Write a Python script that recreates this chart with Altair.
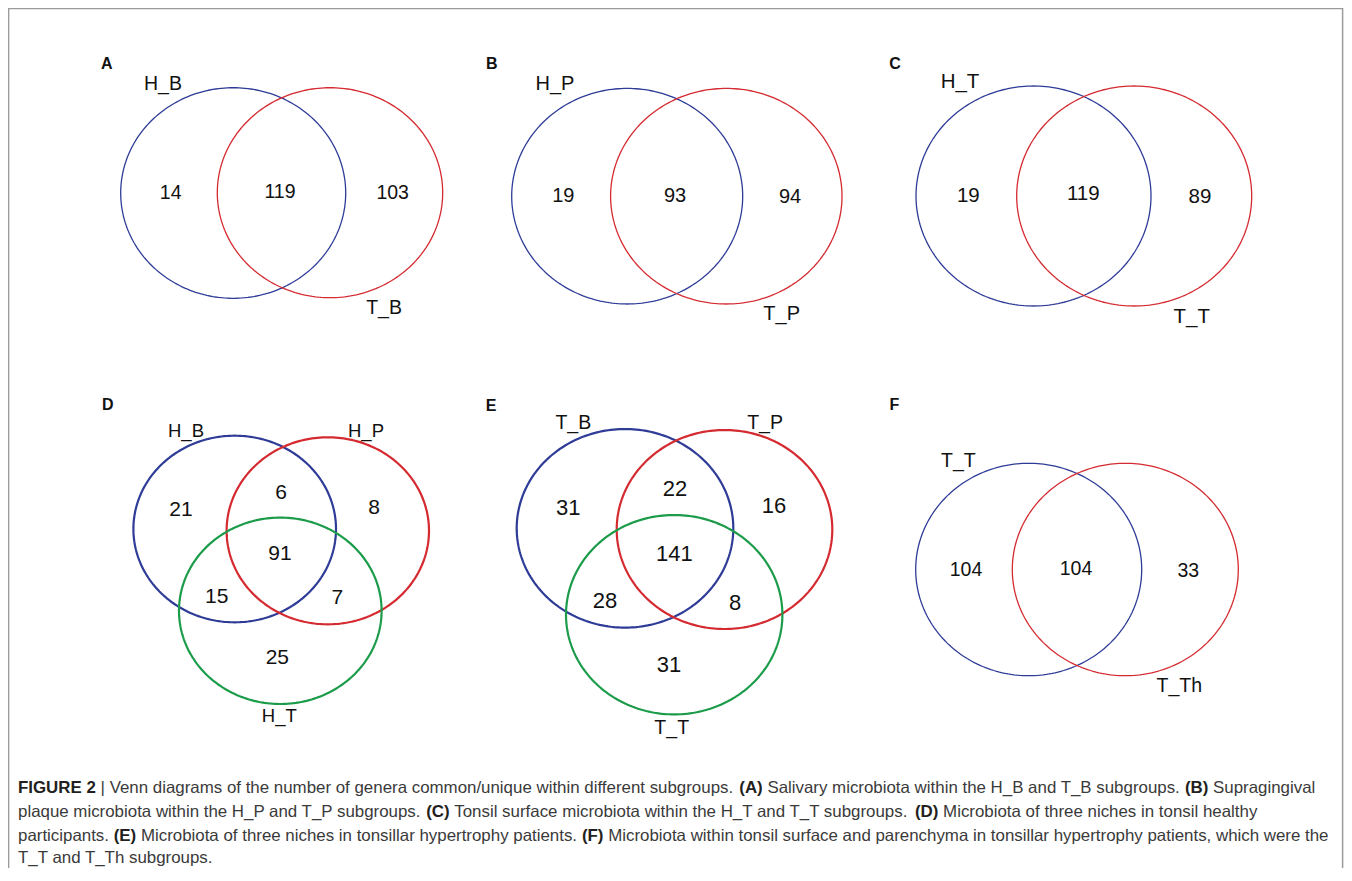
import altair as alt
import numpy as np
import pandas as pd

# ------------------------------------------------------------------ data
panel_ids = ["A", "B", "C", "D", "E", "F"]
set_names_A = ["H_B", "T_B"]
set_names_B = ["H_P", "T_P"]
set_names_C = ["H_T", "T_T"]
set_names_D = ["H_B", "H_P", "H_T"]
set_names_E = ["T_B", "T_P", "T_T"]
set_names_F = ["T_T", "T_Th"]
# two-set region counts: [only first, both, only second]
counts_A = [14, 119, 103]
counts_B = [19, 93, 94]
counts_C = [19, 119, 89]
counts_F = [104, 104, 33]
# three-set region counts: [only 1, 1&2, only 2, all, 1&3, 2&3, only 3]
counts_D = [21, 6, 8, 91, 15, 7, 25]
counts_E = [31, 22, 16, 141, 28, 8, 31]

caption_lines = [
    [("FIGURE 2", True), ("|", False),
     ("Venn diagrams of the number of genera common/unique within different subgroups.", False),
     ("(A)", True), ("Salivary microbiota within the H_B and T_B subgroups.", False),
     ("(B)", True), ("Supragingival", False)],
    [("plaque microbiota within the H_P and T_P subgroups.", False), ("(C)", True),
     ("Tonsil surface microbiota within the H_T and T_T subgroups.", False), ("(D)", True),
     ("Microbiota of three niches in tonsil healthy", False)],
    [("participants.", False), ("(E)", True),
     ("Microbiota of three niches in tonsillar hypertrophy patients.", False), ("(F)", True),
     ("Microbiota within tonsil surface and parenchyma in tonsillar hypertrophy patients, which were the", False)],
    [("T_T and T_Th subgroups.", False)],
]

# ------------------------------------------------------------------ layout (page pixels)
BLUE, RED, GREEN = "#2E3C97", "#D42A30", "#1C9C4A"
layout = {
    "A": dict(names=set_names_A, counts=counts_A, sw=1.3, num=19.5, lab=19.5,
              ell=[(233.2, 193.0, 112.5, 105.3), (330.0, 192.7, 112.7, 105.0)],
              reg=[(170.7, 191.7), (280.0, 190.7), (392.7, 192.3)],
              labpos=[(163.0, 82.7), (384.0, 307.0)], letter=(106.7, 62.7)),
    "B": dict(names=set_names_B, counts=counts_B, sw=1.3, num=20.0, lab=20.0,
              ell=[(627.2, 196.2, 115.5, 107.8), (726.3, 196.2, 115.7, 107.8)],
              reg=[(563.3, 195.0), (675.0, 195.0), (790.0, 196.0)],
              labpos=[(555.0, 83.3), (781.7, 313.3)], letter=(491.7, 62.7)),
    "C": dict(names=set_names_C, counts=counts_C, sw=1.3, num=20.5, lab=20.5,
              ell=[(1033.5, 196.0, 117.5, 110.0), (1134.2, 196.0, 117.5, 110.0)],
              reg=[(968.3, 195.0), (1083.3, 193.3), (1200.0, 196.0)],
              labpos=[(960.0, 81.0), (1191.7, 316.0)], letter=(895.0, 62.7)),
    "D": dict(names=set_names_D, counts=counts_D, sw=2.2, num=21.0, lab=18.5,
              ell=[(234.7, 529.0, 101.3, 93.3), (327.8, 530.8, 101.2, 93.5),
                   (280.3, 610.8, 101.3, 93.2)],
              reg=[(181.0, 509.3), (281.0, 492.3), (374.0, 506.7), (280.0, 553.3),
                   (216.7, 596.0), (337.3, 597.3), (277.3, 656.7)],
              labpos=[(186.0, 430.0), (366.0, 430.0), (279.3, 715.0)], letter=(107.7, 404.0)),
    "E": dict(names=set_names_E, counts=counts_E, sw=2.2, num=22.0, lab=19.5,
              ell=[(625.0, 528.3, 108.3, 99.3), (724.5, 529.5, 107.8, 99.5),
                   (674.2, 614.7, 108.2, 99.7)],
              reg=[(568.3, 506.7), (675.0, 488.3), (774.0, 505.0), (674.3, 553.3),
                   (605.0, 600.0), (735.0, 601.7), (669.0, 664.3)],
              labpos=[(573.3, 422.3), (765.0, 422.3), (671.7, 726.7)], letter=(491.0, 405.0)),
    "F": dict(names=set_names_F, counts=counts_F, sw=1.3, num=19.5, lab=19.5,
              ell=[(1028.7, 569.5, 113.0, 106.2), (1125.3, 569.5, 113.0, 106.2)],
              reg=[(966.0, 569.0), (1076.0, 568.3), (1188.3, 569.7)],
              labpos=[(958.3, 460.0), (1179.3, 685.0)], letter=(894.3, 404.0)),
}
caption_y = [788.0, 811.5, 835.5, 858.0]
caption_left = 18.0
caption_right_1, caption_right_3 = 1331.0, 1313.0

# ------------------------------------------------------------------ build tables
colors = [BLUE, RED, GREEN]
t = np.linspace(0, 2 * np.pi, 241)
ell_rows, num_rows, lab_rows, let_rows = [], [], [], []
for p in panel_ids:
    L = layout[p]
    for k, (cx, cy, rx, ry) in enumerate(L["ell"]):
        for i, a in enumerate(t):
            ell_rows.append(dict(cid=f"{p}{k}", i=i, x=cx + rx * np.cos(a), y=cy + ry * np.sin(a),
                                 col=colors[k], sw=L["sw"]))
    for (x, y), c in zip(L["reg"], L["counts"]):
        num_rows.append(dict(x=x, y=y + 1, text=str(c), size=L["num"]))
    for (x, y), n in zip(L["labpos"], L["names"]):
        lab_rows.append(dict(x=x, y=y + 1, text=n, size=L["lab"]))
    let_rows.append(dict(x=L["letter"][0], y=L["letter"][1] + 1, text=p))

# Arial / Liberation Sans advance widths (per 1000 em)
REG = {" ": 278, "(": 333, ")": 333, ",": 278, ".": 278, "/": 278, "|": 260, "_": 556,
       "A": 667, "B": 667, "C": 722, "D": 722, "E": 667, "F": 611, "G": 778, "H": 722, "I": 278,
       "M": 833, "P": 667, "S": 667, "T": 611, "V": 667,
       "a": 556, "b": 556, "c": 500, "d": 556, "e": 556, "f": 278, "g": 556, "h": 556, "i": 222,
       "j": 222, "k": 500, "l": 222, "m": 833, "n": 556, "o": 556, "p": 556, "q": 556, "r": 333,
       "s": 500, "t": 278, "u": 556, "v": 500, "w": 722, "x": 500, "y": 500, "z": 500}
BOLD = {" ": 278, "(": 333, ")": 333, "2": 556, "A": 722, "B": 722, "C": 722, "D": 722,
        "E": 667, "F": 611, "G": 778, "I": 278, "R": 722, "U": 722}


def em(s, bold):
    tab = BOLD if bold else REG
    return sum(tab.get(ch, 556) for ch in s) / 1000.0


def line_em(segs):
    return sum(em(s, b) for s, b in segs) + 0.278 * (len(segs) - 1)


cap_size = ((caption_right_1 - caption_left) + (caption_right_3 - caption_left)) / (
    line_em(caption_lines[0]) + line_em(caption_lines[2]))

cap_rows = []
for li, segs in enumerate(caption_lines):
    x = caption_left
    for s, b in segs:
        cap_rows.append(dict(x=x, y=caption_y[li], text=s, bold=b))
        x += (em(s, b) + 0.278) * cap_size

ell_df = pd.DataFrame(ell_rows)
num_df = pd.DataFrame(num_rows)
lab_df = pd.DataFrame(lab_rows)
let_df = pd.DataFrame(let_rows)
cap_df = pd.DataFrame(cap_rows)
border_df = pd.DataFrame(dict(i=[0, 1, 2, 3], x=[8.6, 8.6, 1342.6, 1342.6],
                              y=[900.0, 8.6, 8.6, 900.0]))

# ------------------------------------------------------------------ chart
W, H = 1336, 860
xs = alt.Scale(domain=[8, 8 + W], zero=False, nice=False)
ys = alt.Scale(domain=[8, 8 + H], zero=False, nice=False, reverse=True)
X = lambda: alt.X("x:Q", scale=xs, axis=None)
Y = lambda: alt.Y("y:Q", scale=ys, axis=None)
FONT = "Liberation Sans, Arial, Helvetica, sans-serif"

border = alt.Chart(border_df).mark_line(color="#9B9B9B", strokeWidth=1.5, clip=True).encode(
    x=X(), y=Y(), order="i:Q")

ellipses = alt.Chart(ell_df).mark_line().encode(
    x=X(), y=Y(), detail="cid:N", order="i:Q",
    color=alt.Color("col:N", scale=None),
    strokeWidth=alt.StrokeWidth("sw:Q", scale=None))

numbers = alt.Chart(num_df).mark_text(font=FONT, align="center", baseline="middle",
                                      color="#111111").encode(
    x=X(), y=Y(), text="text:N", size=alt.Size("size:Q", scale=None))

labels = alt.Chart(lab_df).mark_text(font=FONT, align="center", baseline="middle",
                                     color="#111111").encode(
    x=X(), y=Y(), text="text:N", size=alt.Size("size:Q", scale=None))

letters = alt.Chart(let_df).mark_text(font=FONT, fontWeight="bold", fontSize=16,
                                      align="center", baseline="middle", color="#111111").encode(
    x=X(), y=Y(), text="text:N")

cap_norm = alt.Chart(cap_df[~cap_df["bold"]]).mark_text(
    font=FONT, fontSize=cap_size, align="left", baseline="middle", color="#3A3A3A").encode(
    x=X(), y=Y(), text="text:N")
cap_bold = alt.Chart(cap_df[cap_df["bold"]]).mark_text(
    font=FONT, fontSize=cap_size, fontWeight="bold", align="left", baseline="middle",
    color="#231F20").encode(x=X(), y=Y(), text="text:N")

chart = alt.layer(border, ellipses, numbers, labels, letters, cap_norm, cap_bold).properties(
    width=W, height=H, padding=0, autosize=alt.AutoSizeParams(type="none"),
    background="white").configure_view(strokeWidth=0)

chart.save("out.html", embed_options={"renderer": "svg", "actions": False})
